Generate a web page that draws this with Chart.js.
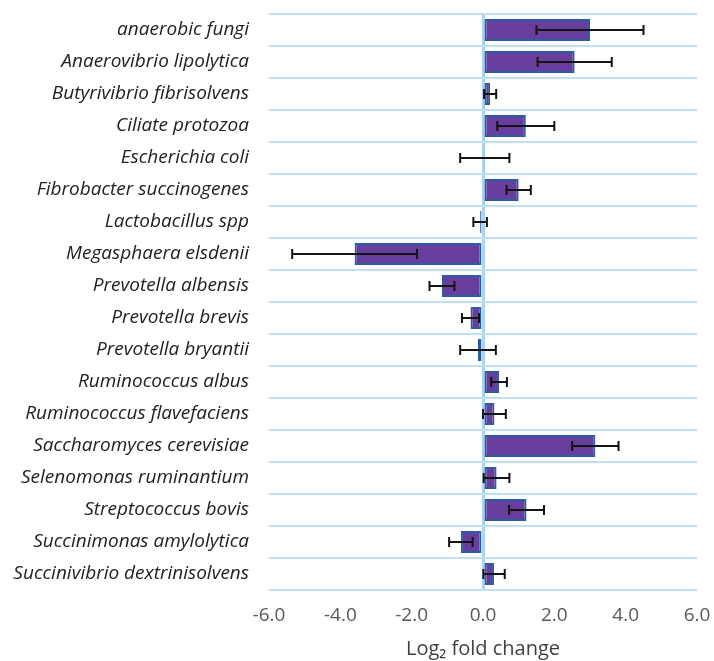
<!DOCTYPE html>
<html lang="en">
<head>
    <meta charset="UTF-8">
    <title>Log2 fold change</title>
    <script src="https://cdn.jsdelivr.net/npm/chart.js"></script>
    <style>
        html, body { margin: 0; padding: 0; background: #fff; }
        #wrap { width: 714px; height: 661px; }
    </style>
</head>
<body>
    <div id="wrap"><canvas id="foldchange"></canvas></div>
    <script>
        const species = [
            'anaerobic fungi', 'Anaerovibrio lipolytica', 'Butyrivibrio fibrisolvens',
            'Ciliate protozoa', 'Escherichia coli', 'Fibrobacter succinogenes',
            'Lactobacillus spp', 'Megasphaera elsdenii', 'Prevotella albensis',
            'Prevotella brevis', 'Prevotella bryantii', 'Ruminococcus albus',
            'Ruminococcus flavefaciens', 'Saccharomyces cerevisiae', 'Selenomonas ruminantium',
            'Streptococcus bovis', 'Succinimonas amylolytica', 'Succinivibrio dextrinisolvens'
        ]
        const foldChange = [3.0, 2.57, 0.2, 1.2, 0.05, 1.0, -0.08, -3.6, -1.15,
            -0.35, -0.14, 0.45, 0.32, 3.15, 0.38, 1.22, -0.62, 0.31]
        const stdError = [1.5, 1.04, 0.17, 0.8, 0.69, 0.34, 0.19, 1.75, 0.35,
            0.24, 0.5, 0.22, 0.32, 0.65, 0.36, 0.49, 0.33, 0.3]
        const xTicks = [-6, -4, -2, 0, 2, 4, 6]

        // whiskers drawn from the x scale
        const errorBars = {
            id: 'errorBars',
            afterDatasetsDraw(chart) {
                const ctx = chart.ctx
                const x = chart.scales.x
                const meta = chart.getDatasetMeta(0)
                ctx.save()
                ctx.strokeStyle = '#141414'
                ctx.lineWidth = 2
                meta.data.forEach((bar, i) => {
                    const x0 = x.getPixelForValue(foldChange[i] - stdError[i])
                    const x1 = x.getPixelForValue(foldChange[i] + stdError[i])
                    const y = bar.y
                    ctx.beginPath()
                    ctx.moveTo(x0, y); ctx.lineTo(x1, y)
                    ctx.moveTo(x0, y - 5); ctx.lineTo(x0, y + 5)
                    ctx.moveTo(x1, y - 5); ctx.lineTo(x1, y + 5)
                    ctx.stroke()
                })
                ctx.restore()
            }
        }

        const data = {
            labels: species,
            datasets: [{
                label: 'Log2 fold change',
                data: foldChange,
                backgroundColor: '#673e9b',
                borderColor: '#2a5ca8',
                borderWidth: 2,
                borderSkipped: false,
                categoryPercentage: 1,
                barPercentage: 0.69
            }]
        }
        const config = {
            type: 'bar',
            data: data,
            options: {
                indexAxis: 'y',
                responsive: false,
                animation: false,
                layout: { padding: { top: 14, right: 17, left: 0, bottom: 0 } },
                plugins: { legend: { display: false }, tooltip: { enabled: false } },
                scales: {
                    x: {
                        min: -6, max: 6, z: 1,
                        afterBuildTicks: s => { s.ticks = xTicks.map(v => ({ value: v })) },
                        afterFit: s => { s.height = 71; s.paddingLeft = 0; s.paddingRight = 0 },
                        border: { display: false },
                        grid: {
                            drawTicks: false,
                            color: c => c.tick && c.tick.value === 0 ? '#a9d3f0' : 'rgba(0,0,0,0)',
                            lineWidth: 3
                        },
                        ticks: {
                            padding: 14,
                            color: '#595959',
                            font: { family: 'Open Sans', size: 19 },
                            callback: v => v.toFixed(1)
                        },
                        title: {
                            display: true,
                            text: 'Log₂ fold change',
                            color: '#404040',
                            font: { family: 'Open Sans', size: 20 },
                            padding: { top: 0, bottom: 0 }
                        }
                    },
                    y: {
                        afterFit: s => { s.width = 269; s.paddingTop = 0; s.paddingBottom = 0 },
                        border: { display: false },
                        grid: {
                            offset: true,
                            drawTicks: false,
                            color: '#c2e0f4',
                            lineWidth: 2
                        },
                        ticks: {
                            padding: 20,
                            color: '#222',
                            font: { family: 'Open Sans', size: 19, style: 'italic' }
                        }
                    }
                }
            },
            plugins: [errorBars]
        }
        const cv = document.getElementById('foldchange')
        cv.width = 714
        cv.height = 661
        new Chart(cv, config)
    </script>
</body>
</html>
